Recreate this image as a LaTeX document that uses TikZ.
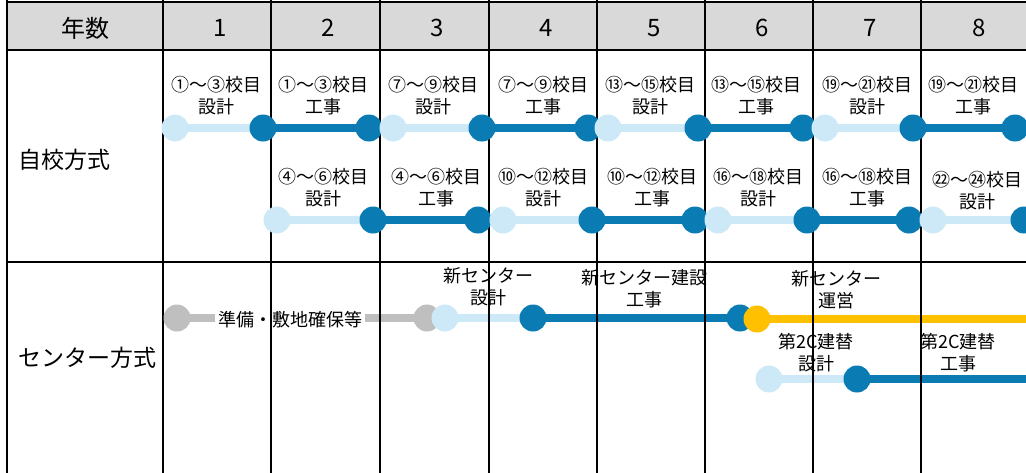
\documentclass[tikz,border=0pt]{standalone}
\usepackage{fontspec}
\setmainfont{Noto Sans CJK JP}
\definecolor{dblue}{HTML}{0A7BB3}
\definecolor{lblue}{HTML}{CDE9F7}
\definecolor{gbar}{HTML}{BFBFBF}
\definecolor{ybar}{HTML}{FFC000}
\definecolor{hdr}{HTML}{D9D9D9}
\pgfdeclarelayer{bars}
\pgfdeclarelayer{gridl}
\pgfsetlayers{bars,gridl,main}
\tikzset{
  dot/.style={circle, minimum size=27pt, inner sep=0pt, draw=none},
  lt/.style={dot, fill=lblue},
  dk/.style={dot, fill=dblue},
  gy/.style={dot, fill=gbar},
  yw/.style={dot, fill=ybar},
  bar/.style={line width=8pt},
  lbar/.style={bar, draw=lblue},
  dbar/.style={bar, draw=dblue},
  gbarl/.style={bar, draw=gbar},
  ybarl/.style={bar, draw=ybar},
  lbl/.style={font=\fontsize{18}{22}\selectfont, align=center, inner sep=0pt},
  ttl/.style={font=\fontsize{23}{27}\selectfont, inner sep=0pt},
  hd/.style={font=\fontsize{24}{28}\selectfont, inner sep=0pt},
  gridline/.style={line width=1.5pt, draw=black}
}
\begin{document}
\begin{tikzpicture}[x=1pt,y=-1pt]
\useasboundingbox (0,0) rectangle (1026,472);
% grid
\begin{pgfonlayer}{gridl}
\fill[hdr] (7,2) rectangle (1030,50);
\draw[gridline] (7,2) -- (1030,2);
\draw[gridline] (7,50) -- (1030,50);
\draw[gridline] (7,262) -- (1030,262);
\foreach \x in {7,163,271,380,489,597,705,813,921}
  \draw[gridline] (\x,0) -- (\x,475);
\end{pgfonlayer}
% header
\node[hd] (hy) at (85,28) {年数};
\node[hd] (h1) at (220,28) {1};
\node[hd] (h2) at (328,28) {2};
\node[hd] (h3) at (437,28) {3};
\node[hd] (h4) at (546,28) {4};
\node[hd] (h5) at (654,28) {5};
\node[hd] (h6) at (762,28) {6};
\node[hd] (h7) at (870,28) {7};
\node[hd] (h8) at (979,28) {8};
% row titles
\node[ttl, anchor=west] (t1) at (18,160) {自校方式};
\node[ttl, anchor=west] (t2) at (18,358) {センター方式};
% row 1 track
\node[lt] (a1) at (175,128) {};
\node[dk] (a2) at (263,128) {};
\node[dk] (a3) at (369,128) {};
\node[lt] (b1) at (393,128) {};
\node[dk] (b2) at (482,128) {};
\node[dk] (b3) at (588,128) {};
\node[lt] (c1) at (608,128) {};
\node[dk] (c2) at (698,128) {};
\node[dk] (c3) at (803,128) {};
\node[lt] (d1) at (825,128) {};
\node[dk] (d2) at (913,128) {};
\node[dk] (d3) at (1015,128) {};
% row 2 track
\node[lt] (e1) at (277,220) {};
\node[dk] (e2) at (373,220) {};
\node[dk] (e3) at (478,220) {};
\node[lt] (f1) at (503,220) {};
\node[dk] (f2) at (592,220) {};
\node[dk] (f3) at (695,220) {};
\node[lt] (g1) at (718,220) {};
\node[dk] (g2) at (807,220) {};
\node[dk] (g3) at (909,220) {};
\node[lt] (k1) at (933,220) {};
\node[dk] (k2) at (1024,220) {};
% center row
\node[gy] (p1) at (177,318) {};
\node[gy] (p2) at (427,318) {};
\node[lt] (q1) at (445,318) {};
\node[dk] (q2) at (533,318) {};
\node[dk] (q3) at (740,318) {};
\node[yw] (r1) at (757,319) {};
\coordinate (rend) at (1032,319);
\node[lt] (s1) at (769,379) {};
\node[dk] (s2) at (857,379) {};
\coordinate (send) at (1032,379);
\begin{pgfonlayer}{bars}
\draw[lbar] (a1.center) -- (a2.center);
\draw[dbar] (a2.center) -- (a3.center);
\draw[lbar] (b1.center) -- (b2.center);
\draw[dbar] (b2.center) -- (b3.center);
\draw[lbar] (c1.center) -- (c2.center);
\draw[dbar] (c2.center) -- (c3.center);
\draw[lbar] (d1.center) -- (d2.center);
\draw[dbar] (d2.center) -- (d3.center);
\draw[lbar] (e1.center) -- (e2.center);
\draw[dbar] (e2.center) -- (e3.center);
\draw[lbar] (f1.center) -- (f2.center);
\draw[dbar] (f2.center) -- (f3.center);
\draw[lbar] (g1.center) -- (g2.center);
\draw[dbar] (g2.center) -- (g3.center);
\draw[lbar] (k1.center) -- (k2.center);
\draw[gbarl] (p1.center) -- (p2.center);
\node[lbl, fill=white, inner xsep=3pt, inner ysep=2pt] (prep) at (290,320) {準備・敷地確保等};
\draw[lbar] (q1.center) -- (q2.center);
\draw[dbar] (q2.center) -- (q3.center);
\draw[ybarl] (r1.center) -- (rend);
\draw[lbar] (s1.center) -- (s2.center);
\draw[dbar] (s2.center) -- (send);
\end{pgfonlayer}
% row 1 labels
\node[lbl] (l11) at (216,96) {①～③校目\\設計};
\node[lbl] (l12) at (323,96) {①～③校目\\工事};
\node[lbl] (l13) at (433,96) {⑦～⑨校目\\設計};
\node[lbl] (l14) at (543,96) {⑦～⑨校目\\工事};
\node[lbl] (l15) at (650,96) {⑬～⑮校目\\設計};
\node[lbl] (l16) at (756,96) {⑬～⑮校目\\工事};
\node[lbl] (l17) at (867,96) {⑲～㉑校目\\設計};
\node[lbl] (l18) at (973,96) {⑲～㉑校目\\工事};
% row 2 labels
\node[lbl] (l22) at (323,188) {④～⑥校目\\設計};
\node[lbl] (l23) at (436,188) {④～⑥校目\\工事};
\node[lbl] (l24) at (543,188) {⑩～⑫校目\\設計};
\node[lbl] (l25) at (652,188) {⑩～⑫校目\\工事};
\node[lbl] (l26) at (758,188) {⑯～⑱校目\\設計};
\node[lbl] (l27) at (867,188) {⑯～⑱校目\\工事};
\node[lbl] (l28) at (977,191) {㉒～㉔校目\\設計};
% center labels
\node[lbl] (n1) at (488,287) {新センター\\設計};
\node[lbl] (n2) at (644,289) {新センター建設\\工事};
\node[lbl] (n3) at (836,290) {新センター\\運営};
\node[lbl] (n4) at (816,353) {第2C建替\\設計};
\node[lbl] (n5) at (958,353) {第2C建替\\工事};
\end{tikzpicture}
\end{document}
